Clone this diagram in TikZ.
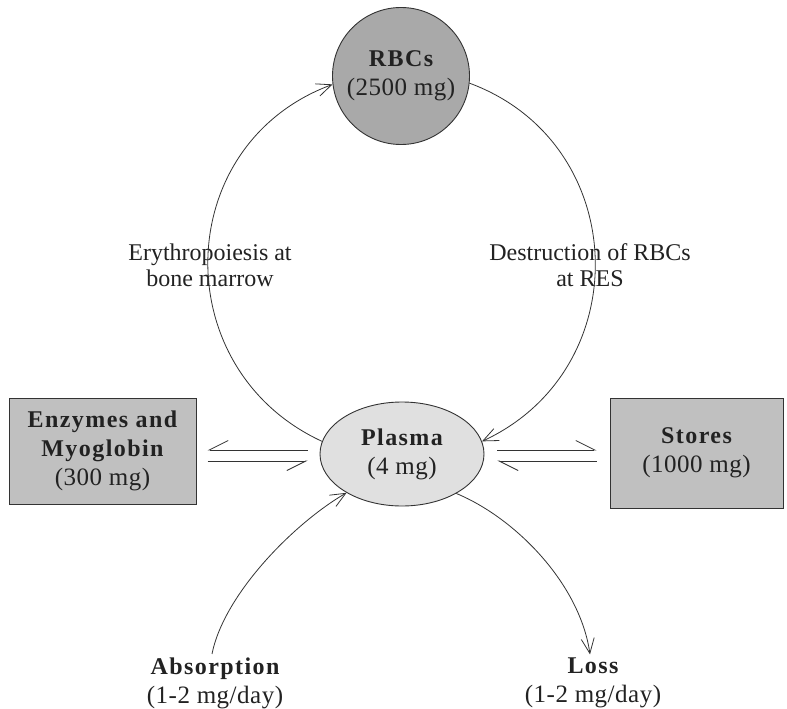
\documentclass[tikz,border=0pt]{standalone}
\usepackage{fontspec}
\setmainfont{Liberation Serif}
\usetikzlibrary{arrows.meta,calc,shapes.geometric}

\definecolor{ink}{HTML}{222222}
\definecolor{linec}{HTML}{333333}
\definecolor{rbcfill}{HTML}{A9A9A9}
\definecolor{plasmafill}{HTML}{E0E0E0}
\definecolor{boxfill}{HTML}{C0C0C0}

\newcommand{\hd}[1]{{\bfseries\addfontfeatures{LetterSpace=6}#1}}
\newcommand{\amt}[1]{{\fontsize{25}{29}\selectfont\addfontfeatures{LetterSpace=2}#1}}

\begin{document}
\begin{tikzpicture}[x=1pt,y=-1pt,
  every node/.style={text=ink, align=center, font=\fontsize{24}{29}\selectfont},
  conn/.style={draw=linec, line width=0.8pt},
  tip/.style={-{Straight Barb[length=15pt, width=13pt]}},
  harpR/.style={-{Straight Barb[length=19pt, width=19pt, right]}},
  harpL/.style={-{Straight Barb[length=19pt, width=19pt, left]}},
  boxnode/.style={draw=linec, line width=1pt, fill=boxfill},
  label/.style={font=\fontsize{24}{26}\selectfont}]
\useasboundingbox (0,0) rectangle (787,709);

\node[circle, draw=linec, line width=0.9pt, fill=rbcfill, minimum size=137pt, inner sep=0pt] (rbc) at (401,76) {\hd{RBCs}\\\amt{(2500 mg)}};
\node[ellipse, draw=linec, line width=0.9pt, fill=plasmafill, minimum width=164pt, minimum height=104pt, inner sep=0pt] (plasma) at (402,454) {\hd{Plasma}\\\amt{(4 mg)}};
\node[boxnode, minimum width=187pt, minimum height=106pt] (enz) at (102.5,451) {\hd{Enzymes and}\\\hd{Myoglobin}\\\amt{(300 mg)}};
\node[boxnode, minimum width=173pt, minimum height=110pt] (stores) at (696.5,453) {\hd{Stores}\\\amt{(1000 mg)}};

\node[label] (ery) at (210,265) {Erythropoiesis at\\bone marrow};
\node[label] (des) at (590,265) {Destruction of RBCs\\at RES};

\node (absorb) at (215,683) {\hd{Absorption}\\\amt{(1-2 mg/day)}};
\node (loss) at (593,683) {\hd{Loss}\\\amt{(1-2 mg/day)}};

% cycle arcs
\draw[conn, tip] (plasma.171) .. controls +(-156,-72) and +(-162,60) .. (rbc.187);
\draw[conn, tip] (rbc.-6) .. controls +(162,60) and +(156,-72) .. (plasma.9);

% exchange harpoons
\coordinate (eA) at ($(enz.east)+(11,-1)$);
\coordinate (eB) at ($(enz.east)+(11,10)$);
\coordinate (pA) at ($(plasma.west)+(-12,-4)$);
\coordinate (pB) at ($(plasma.west)+(-12,7)$);
\draw[conn, harpR] (pA) -- (eA);
\draw[conn, harpR] (eB) -- (pB);

\coordinate (qA) at ($(plasma.east)+(13,-4)$);
\coordinate (qB) at ($(plasma.east)+(13,7)$);
\coordinate (sA) at ($(stores.west)+(-13,-3)$);
\coordinate (sB) at ($(stores.west)+(-13,8)$);
\draw[conn, harpL] (qA) -- (sA);
\draw[conn, harpL] (sB) -- (qB);

% intake and loss
\draw[conn, tip] ([xshift=-3pt]absorb.north) .. controls +(12,-60) and +(-52,30) .. (plasma.215);
\draw[conn, tip] (plasma.-36) .. controls +(60,25) and +(-10,-70) .. ([xshift=-3pt]loss.north);
\end{tikzpicture}
\end{document}
